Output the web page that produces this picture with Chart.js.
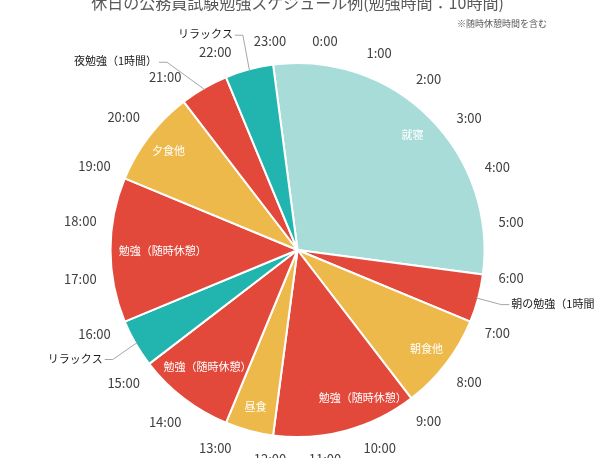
<!DOCTYPE html>
<html lang="ja">
<head>
<meta charset="utf-8">
<title>休日の公務員試験勉強スケジュール例</title>
<script src="https://cdn.jsdelivr.net/npm/chart.js@4/dist/chart.umd.min.js"></script>
<style>
    html, body { margin: 0; padding: 0; background: #fff; }
    #contenedor { width: 595px; height: 458px; }
</style>
</head>
<body>
<div id="contenedor"><canvas id="graficoHorario" width="595" height="458"></canvas></div>
<script>
    /*      DATOS DEL HORARIO (empieza a las 23:00)     */
    var categorias = ['就寝', '朝の勉強（1時間）', '朝食他', '勉強（随時休憩）', '昼食', '勉強（随時休憩）',
                      'リラックス', '勉強（随時休憩）', '夕食他', '夜勉強（1時間）', 'リラックス'];
    var horas = [7, 1, 2, 3, 1, 2, 1, 3, 2, 1, 1];
    var tipos = ['sueno', 'estudio', 'comida', 'estudio', 'comida', 'estudio',
                 'relax', 'estudio', 'comida', 'estudio', 'relax'];
    var etiquetasHora = ['0:00', '1:00', '2:00', '3:00', '4:00', '5:00', '6:00', '7:00', '8:00', '9:00',
                         '10:00', '11:00', '12:00', '13:00', '14:00', '15:00', '16:00', '17:00', '18:00',
                         '19:00', '20:00', '21:00', '22:00', '23:00'];
    var horaInicio = 23;
    var titulo = '休日の公務員試験勉強スケジュール例(勉強時間：10時間)';
    var nota = '※随時休憩時間を含む';

    var colores = { sueno: '#a8dcd9', estudio: '#e2493b', comida: '#eeb94b', relax: '#22b5b0' };
    var fuente = '"Noto Sans CJK JP", "Noto Sans", sans-serif';

    // ajustes a mano de las etiquetas (como estaban en el original)
    var ajusteFuera = { 6: [-2, 4], 9: [-25, -5], 10: [0, -11] };
    var ajusteDentro = { 3: [24, -6], 7: [4, 1] };

    var etiquetasPlugin = {
        id: 'etiquetas',
        afterDatasetsDraw: function(chart) {
            var ctx = chart.ctx;
            var arcs = chart.getDatasetMeta(0).data;
            var cx = arcs[0].x;
            var cy = arcs[0].y;
            var R = arcs[0].outerRadius;
            var inicio = arcs[0].startAngle;
            var paso = Math.PI * 2 / 24;

            ctx.save();

            // titulo y nota
            ctx.fillStyle = '#595959';
            ctx.textAlign = 'center';
            ctx.textBaseline = 'middle';
            ctx.font = '16px ' + fuente;
            ctx.fillText(titulo, chart.width / 2, 3);
            ctx.font = '9px ' + fuente;
            ctx.fillText(nota, 502, 24);

            // horas alrededor del círculo
            ctx.font = '13px ' + fuente;
            ctx.fillStyle = '#404040';
            etiquetasHora.forEach(function(txt, h) {
                var a = inicio + ((h - horaInicio + 24) % 24) * paso;
                var w = ctx.measureText(txt).width;
                var r = R + 15 + Math.abs(Math.cos(a)) * w / 2 + Math.abs(Math.sin(a)) * 7;
                ctx.fillText(txt, cx + r * Math.cos(a), cy + r * Math.sin(a));
            });

            // etiquetas de cada tramo
            ctx.font = '11px ' + fuente;
            arcs.forEach(function(arc, i) {
                var txt = categorias[i];
                var medio = (arc.startAngle + arc.endAngle) / 2;
                var span = arc.endAngle - arc.startAngle;
                var w = ctx.measureText(txt).width;
                var rLab = R * 0.87;
                var cuerda = 2 * rLab * Math.sin(span / 2);

                if (span >= paso * 1.9 || w < cuerda) {
                    // dentro: se acerca al centro hasta que quepa
                    while (rLab > 0) {
                        var dx = Math.abs(rLab * Math.cos(medio)) + w / 2;
                        var dy = Math.abs(rLab * Math.sin(medio)) + 7;
                        if (Math.sqrt(dx * dx + dy * dy) <= R - 4) break;
                        rLab -= 1;
                    }
                    var ad = ajusteDentro[i] || [0, 0];
                    ctx.fillStyle = '#ffffff';
                    ctx.textAlign = 'center';
                    ctx.fillText(txt, cx + rLab * Math.cos(medio) + ad[0], cy + rLab * Math.sin(medio) + ad[1]);
                } else {
                    // fuera, con línea guía
                    var aj = ajusteFuera[i] || [0, 0];
                    var x0 = cx + (R - 2) * Math.cos(medio);
                    var y0 = cy + (R - 2) * Math.sin(medio);
                    var x1 = cx + (R + 24) * Math.cos(medio) + aj[0];
                    var y1 = cy + (R + 24) * Math.sin(medio) + aj[1];
                    var lado = Math.cos(medio) >= 0 ? 1 : -1;
                    var x2 = x1 + lado * 8;
                    ctx.strokeStyle = '#a6a6a6';
                    ctx.lineWidth = 1;
                    ctx.beginPath();
                    ctx.moveTo(x0, y0);
                    ctx.lineTo(x1, y1);
                    ctx.lineTo(x2, y1);
                    ctx.stroke();
                    ctx.fillStyle = '#1a1a1a';
                    ctx.textAlign = lado > 0 ? 'left' : 'right';
                    ctx.fillText(txt, x2 + lado * 2, y1 - 1);
                }
            });

            ctx.restore();
        }
    };

    function generarGrafico() {
        var ctx = document.getElementById('graficoHorario').getContext('2d');
        var fondo = tipos.map(function(t) { return colores[t]; });
        // 0:00 queda 7.5 grados a la derecha de las 12 en punto
        var rotacion = horaInicio * 15 + 7.5 - 360;

        var myChart = new Chart(ctx, {
            type: 'pie',
            data: {
                labels: categorias,
                datasets: [{
                    data: horas,
                    backgroundColor: fondo,
                    borderColor: '#ffffff',
                    borderWidth: 2
                }]
            },
            options: {
                responsive: false,
                animation: false,
                rotation: rotacion,
                layout: { padding: { top: 62, bottom: 20, left: 0, right: 0 } },
                plugins: {
                    legend: { display: false },
                    tooltip: { enabled: false }
                }
            },
            plugins: [etiquetasPlugin]
        });
    }

    generarGrafico();
</script>
</body>
</html>
